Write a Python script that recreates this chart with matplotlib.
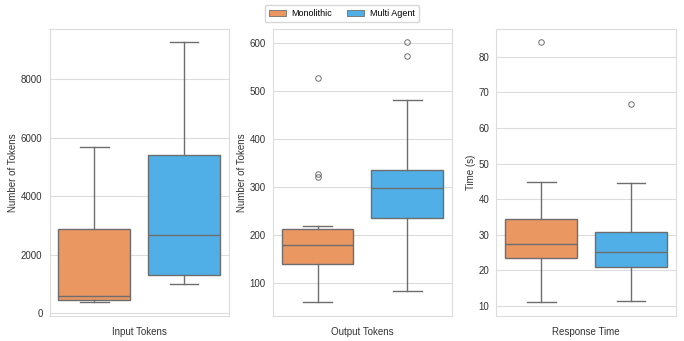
import matplotlib
matplotlib.use("Agg")
import matplotlib.pyplot as plt
from matplotlib.patches import Patch

metrics = ["Input Tokens", "Output Tokens", "Response Time"]
ylabels = ["Number of Tokens", "Number of Tokens", "Time (s)"]
groups = ["Monolithic", "Multi Agent"]
colors = ["#EA9762", "#4FAFE6"]

# per metric: [monolithic, multi agent] -> (whislo, q1, med, q3, whishi)
input_mono = [365, 456, 593, 2865, 5694]
input_multi = [1004, 1301, 2670, 5408, 9278]
output_mono = [60, 140, 179, 212, 219]
output_multi = [83, 235, 299, 335, 481]
time_mono = [10.9, 23.5, 27.4, 34.5, 44.7]
time_multi = [11.2, 20.9, 25.2, 30.8, 44.4]

input_mono_fliers = []
input_multi_fliers = []
output_mono_fliers = [322, 328, 528]
output_multi_fliers = [572, 602]
time_mono_fliers = [84.2]
time_multi_fliers = [66.8]

data = [
    [(input_mono, input_mono_fliers), (input_multi, input_multi_fliers)],
    [(output_mono, output_mono_fliers), (output_multi, output_multi_fliers)],
    [(time_mono, time_mono_fliers), (time_multi, time_multi_fliers)],
]
yticks = [[0, 2000, 4000, 6000, 8000],
          [100, 200, 300, 400, 500, 600],
          [10, 20, 30, 40, 50, 60, 70, 80]]

plt.rcParams['font.family'] = ['Liberation Sans', 'DejaVu Sans']
fig = plt.figure(figsize=(6.84, 3.41), dpi=100)
lefts = [49.5, 272.7, 496.3]
width = 179.5
bottom, top = 25.5, 312
line_c = "#6e6e6e"
grid_c = "#dcdcdc"
text_c = "#333333"

for i, (metric, yl) in enumerate(zip(metrics, ylabels)):
    ax = fig.add_axes([lefts[i] / 684, bottom / 341, width / 684, (top - bottom) / 341])
    stats = []
    for (s, fl) in data[i]:
        stats.append(dict(whislo=s[0], q1=s[1], med=s[2], q3=s[3], whishi=s[4], fliers=fl))
    bp = ax.bxp(stats, positions=[-0.25, 0.25], widths=0.4, patch_artist=True,
                showfliers=True,
                boxprops=dict(edgecolor=line_c, linewidth=1.0),
                medianprops=dict(color=line_c, linewidth=1.0),
                whiskerprops=dict(color=line_c, linewidth=1.0),
                capprops=dict(color=line_c, linewidth=1.0),
                flierprops=dict(marker='o', markersize=4, markerfacecolor='none',
                                markeredgecolor=line_c, markeredgewidth=0.7),
                capwidths=0.16)
    for patch, c in zip(bp['boxes'], colors):
        patch.set_facecolor(c)
    ax.set_xlim(-0.5, 0.5)
    ax.set_xticks([0])
    ax.set_xticklabels([metric], fontsize=7, color=text_c)
    ax.set_yticks(yticks[i])
    ax.tick_params(axis='y', labelsize=7, colors=text_c, length=0, pad=5)
    ax.tick_params(axis='x', length=0, pad=8)
    ax.set_ylabel(yl, fontsize=7, color=text_c, labelpad=2)
    ax.yaxis.grid(True, color=grid_c, linewidth=0.8)
    ax.set_axisbelow(True)
    for sp in ax.spines.values():
        sp.set_color(grid_c)
        sp.set_linewidth(0.8)
    lo = min(min(s[0] for s, _ in data[i]), min([min(f) for _, f in data[i] if f], default=1e9))
    hi = max(max(s[4] for s, _ in data[i]), max([max(f) for _, f in data[i] if f], default=-1e9))
    pad = (hi - lo) * 0.05
    ax.set_ylim(lo - pad, hi + pad)

handles = [Patch(facecolor=c, edgecolor=line_c, linewidth=0.6, label=g) for g, c in zip(groups, colors)]
fig.legend(handles=handles, loc='upper center', ncol=2, bbox_to_anchor=(0.4995, 0.998),
           fontsize=6.5, frameon=True, edgecolor="#cccccc", fancybox=True,
           handlelength=1.9, handleheight=0.55, handletextpad=0.6,
           columnspacing=1.7, borderpad=0.45)

fig.savefig("out.png", dpi=100, facecolor="white")
